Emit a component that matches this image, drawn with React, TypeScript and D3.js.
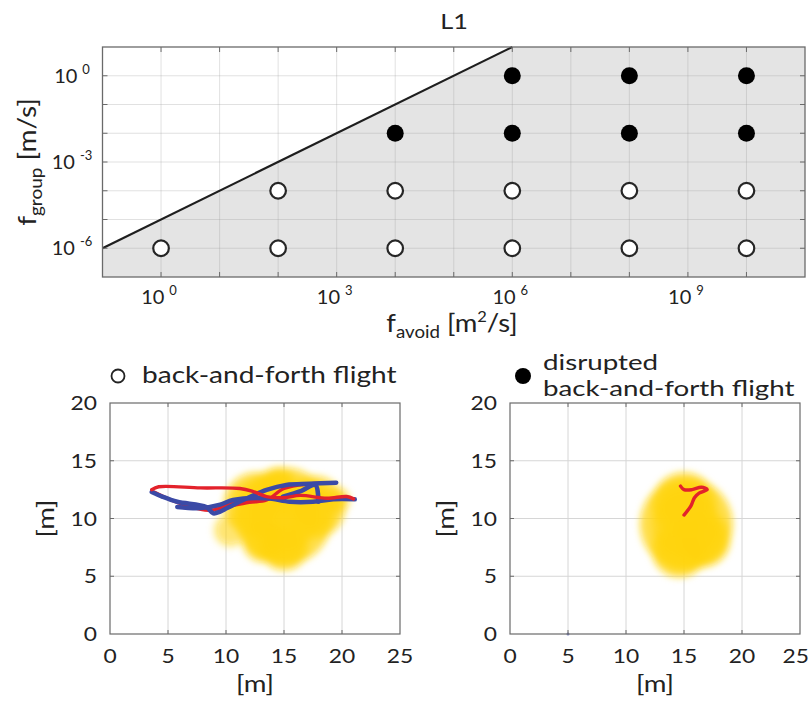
import React from "react";
import * as d3 from "d3";

// ---------- Data ----------
const W = 810;
const H = 703;

// Top panel: parameter sweep
const pointFavoid = [1e0, 1e2, 1e4, 1e6, 1e8, 1e10, 1e2, 1e4, 1e6, 1e8, 1e10, 1e4, 1e6, 1e8, 1e10, 1e6, 1e8, 1e10];
const pointFgroup = [1e-6, 1e-6, 1e-6, 1e-6, 1e-6, 1e-6, 1e-4, 1e-4, 1e-4, 1e-4, 1e-4, 1e-2, 1e-2, 1e-2, 1e-2, 1e0, 1e0, 1e0];
const pointDisrupted = [false, false, false, false, false, false, false, false, false, false, false, true, true, true, true, true, true, true];
const boundaryFavoid = [1e-1, 1e6];
const boundaryFgroup = [1e-6, 1e1];
const xTickExps = [0, 3, 6, 9];
const yTickExps = [0, -3, -6];

// Bottom panels
const bottomTicksX = [0, 5, 10, 15, 20, 25];
const bottomTicksY = [0, 5, 10, 15, 20];

// Yellow blobs: [x, y, r, weight]
const blobLeft: number[][] = [
  [15.0, 10.2, 4.2, 1],
  [12.6, 11.2, 2.8, 1],
  [17.6, 11.0, 2.7, 1],
  [15.0, 7.6, 2.1, 1],
  [13.2, 8.0, 1.8, 0.9],
  [10.4, 9.0, 1.5, 0.55],
  [19.6, 11.6, 1.1, 0.7],
  [14.5, 12.8, 1.6, 1],
];
const blobRight: number[][] = [
  [15.2, 9.5, 4.0, 1],
  [15.0, 11.2, 2.8, 1],
  [14.6, 7.3, 2.4, 1],
  [16.6, 8.2, 2.4, 1],
];

// Trajectories (left panel)
const redLeft1: number[][] = [[3.6, 12.5], [4.2, 12.75], [7.8, 12.65], [11.2, 12.6], [12.3, 12.35], [13.5, 11.9], [15, 11.8], [16.4, 12.0], [18.7, 11.75], [20.4, 11.9], [21, 11.7]];
const redLeft2: number[][] = [[3.8, 12.3], [5.8, 11.4], [8.5, 10.7], [10, 11.0], [12, 11.4], [13.5, 11.6], [15, 12.6], [17.2, 13.0], [19.3, 13.1]];
const redLeft3: number[][] = [[6, 11.0], [8, 10.9], [10.5, 11.3], [12.5, 11.5]];
const blueLeft1: number[][] = [[3.6, 12.3], [4.5, 11.9], [5.8, 11.45], [8.3, 11.0], [8.9, 10.45], [9.5, 10.6], [10.1, 10.9], [11.8, 11.75], [13.5, 12.47], [15.2, 12.9], [17.2, 13.0], [19.5, 13.1]];
const blueLeft2: number[][] = [[5.8, 11.0], [7.8, 10.9], [9.5, 11.2], [10.6, 11.6], [13.5, 11.75], [15.5, 11.45], [17.5, 11.45], [19.25, 11.66], [21.1, 11.66]];
const blueLeft3: number[][] = [[14.9, 11.9], [16.5, 12.4], [17.7, 12.9], [17.96, 11.45]];
// Trajectories (right panel)
const redRight: number[][] = [[14.7, 12.8], [15.0, 12.5], [15.7, 12.5], [16.5, 12.7], [17.0, 12.5], [16.3, 12.2], [15.9, 11.8], [15.6, 11.1], [15.0, 10.3]];
const blueRight: number[][] = [[5, 0]];

// ---------- Styles ----------
const FONT = "Lato, 'Open Sans', sans-serif";
const TXT = "#222";
const FRAME = "#6a6a6a";
const GRID = "#d6d6d6";
const RED = "#e3222b";
const BLUE = "#3b4aa6";
const YELLOW = "#ffd40f";

function T({ x, y, size, sx = 1, rot = 0, anchor = "start", children }: any) {
  return (
    <text
      transform={`translate(${x},${y}) rotate(${rot}) scale(${sx},1)`}
      fontFamily={FONT}
      fontSize={size}
      fill={TXT}
      textAnchor={anchor}
    >
      {children}
    </text>
  );
}

function TopPanel() {
  const x = d3.scaleLog().domain([1e-1, 1e11]).range([102.5, 805]);
  const y = d3.scaleLog().domain([1e-7, 1e1]).range([277, 47]);
  const [x0, x1] = x.range();
  const [y0, y1] = y.range();
  const decX = d3.range(-1, 12).map((e) => Math.pow(10, e));
  const decY = d3.range(-7, 2).map((e) => Math.pow(10, e));
  const line = d3.line<number>().x((_, i) => x(boundaryFavoid[i])).y((_, i) => y(boundaryFgroup[i]));
  const shade = [
    [x0, y0],
    [x(boundaryFavoid[0]), y(boundaryFgroup[0])],
    [x(boundaryFavoid[1]), y(boundaryFgroup[1])],
    [x1, y1],
    [x1, y0],
  ];
  return (
    <g>
      <polygon points={shade.map((p) => p.join(",")).join(" ")} fill="#e4e4e4" />
      {decX.slice(1, -1).map((v, i) => (
        <line key={"gx" + i} x1={x(v)} x2={x(v)} y1={y1} y2={y0} stroke="#9a9a9a" strokeOpacity={0.3} strokeWidth={1} />
      ))}
      {decY.slice(1, -1).map((v, i) => (
        <line key={"gy" + i} x1={x0} x2={x1} y1={y(v)} y2={y(v)} stroke="#9a9a9a" strokeOpacity={0.3} strokeWidth={1} />
      ))}
      <path d={line([0, 1]) || ""} stroke="#1e1e1e" strokeWidth={2.2} fill="none" />
      {pointFavoid.map((fa, i) => (
        <circle
          key={"p" + i}
          cx={x(fa)}
          cy={y(pointFgroup[i])}
          r={pointDisrupted[i] ? 8.5 : 7.8}
          fill={pointDisrupted[i] ? "#000" : "#fff"}
          stroke={pointDisrupted[i] ? "#000" : "#262626"}
          strokeWidth={pointDisrupted[i] ? 0 : 2.2}
        />
      ))}
      {decX.slice(1, -1).map((v, i) => (
        <g key={"tx" + i}>
          <line x1={x(v)} x2={x(v)} y1={y0} y2={y0 - 5} stroke={FRAME} />
          <line x1={x(v)} x2={x(v)} y1={y1} y2={y1 + 5} stroke={FRAME} />
        </g>
      ))}
      {decY.slice(1, -1).map((v, i) => (
        <g key={"ty" + i}>
          <line x1={x0} x2={x0 + 5} y1={y(v)} y2={y(v)} stroke={FRAME} />
          <line x1={x1} x2={x1 - 5} y1={y(v)} y2={y(v)} stroke={FRAME} />
        </g>
      ))}
      <rect x={x0} y={y1} width={x1 - x0} height={y0 - y1} fill="none" stroke={FRAME} strokeWidth={1.3} />
      {xTickExps.map((e) => (
        <T key={"lx" + e} x={x(Math.pow(10, e)) - 2} y={304} size={20} anchor="middle">
          10<tspan dx={5} dy={-9} fontSize={13}>{e}</tspan>
        </T>
      ))}
      {yTickExps.map((e) => (
        <T key={"ly" + e} x={72} y={y(Math.pow(10, e)) + 7} size={20} anchor="middle">
          10<tspan dx={5} dy={-9} fontSize={13}>{e}</tspan>
        </T>
      ))}
      <T x={454} y={29} size={22} sx={1.15} anchor="middle">L1</T>
      <T x={36} y={162} size={25} sx={1.12} rot={-90} anchor="middle">
        f<tspan fontSize={17} dy={6}>group</tspan>
        <tspan dy={-6}> [m/s]</tspan>
      </T>
      <T x={452} y={332} size={25} sx={1.1} anchor="middle">
        f<tspan fontSize={17} dy={6}>avoid</tspan>
        <tspan dy={-6}> [m</tspan>
        <tspan fontSize={15} dy={-10}>2</tspan>
        <tspan dy={10}>/s]</tspan>
      </T>
    </g>
  );
}

function Bottom({ left, blob, reds, blues, id }: any) {
  const x = d3.scaleLinear().domain([0, 25]).range([left, left + 290]);
  const y = d3.scaleLinear().domain([0, 20]).range([634, 403]);
  const [x0, x1] = x.range();
  const [y0, y1] = y.range();
  const line = d3
    .line<number[]>()
    .x((d) => x(d[0]))
    .y((d) => y(d[1]))
    .curve(d3.curveCatmullRom);
  const k = x(1) - x(0);
  return (
    <g>
      <defs>
        <filter id={"blur" + id} x="-30%" y="-30%" width="160%" height="160%">
          <feGaussianBlur stdDeviation={3.5} />
        </filter>
      </defs>
      {bottomTicksX.slice(1, -1).map((v) => (
        <line key={"gx" + v} x1={x(v)} x2={x(v)} y1={y1} y2={y0} stroke={GRID} />
      ))}
      {bottomTicksY.slice(1, -1).map((v) => (
        <line key={"gy" + v} x1={x0} x2={x1} y1={y(v)} y2={y(v)} stroke={GRID} />
      ))}
      <g filter={`url(#blur${id})`}>
        {blob.map((c: number[], i: number) => (
          <circle key={i} cx={x(c[0])} cy={y(c[1])} r={c[2] * k} fill={YELLOW} fillOpacity={0.75 * c[3]} />
        ))}
        {blob.map((c: number[], i: number) => (
          <circle key={"b" + i} cx={x(c[0])} cy={y(c[1])} r={c[2] * k * 0.75} fill={YELLOW} fillOpacity={0.6 * c[3]} />
        ))}
      </g>
      {reds.under.map((t: number[][], i: number) => (
        <path key={"ru" + i} d={line(t) || ""} stroke={RED} strokeWidth={3.4} fill="none" strokeLinejoin="round" strokeLinecap="round" />
      ))}
      {blues.map((t: number[][], i: number) =>
        t.length > 1 ? (
          <path key={"b" + i} d={line(t) || ""} stroke={BLUE} strokeWidth={4.5} fill="none" strokeLinejoin="round" strokeLinecap="round" />
        ) : (
          <circle key={"b" + i} cx={x(t[0][0])} cy={y(t[0][1])} r={1.5} fill={BLUE} fillOpacity={0.7} />
        )
      )}
      {reds.over.map((t: number[][], i: number) => (
        <path key={"ro" + i} d={line(t) || ""} stroke={RED} strokeWidth={3.4} fill="none" strokeLinejoin="round" strokeLinecap="round" />
      ))}
      {bottomTicksX.slice(1, -1).map((v) => (
        <g key={"tx" + v}>
          <line x1={x(v)} x2={x(v)} y1={y0} y2={y0 - 4} stroke={FRAME} />
          <line x1={x(v)} x2={x(v)} y1={y1} y2={y1 + 4} stroke={FRAME} />
        </g>
      ))}
      {bottomTicksY.slice(1, -1).map((v) => (
        <g key={"ty" + v}>
          <line x1={x0} x2={x0 + 4} y1={y(v)} y2={y(v)} stroke={FRAME} />
          <line x1={x1} x2={x1 - 4} y1={y(v)} y2={y(v)} stroke={FRAME} />
        </g>
      ))}
      <rect x={x0} y={y1} width={x1 - x0} height={y0 - y1} fill="none" stroke={FRAME} strokeWidth={1.2} />
      {bottomTicksX.map((v) => {
        const px = x(v);
        const overflow = px + 14 > W;
        return (
          <T key={"lx" + v} x={overflow ? W - 1 : px} y={663} size={19} sx={1.2} anchor={overflow ? "end" : "middle"}>
            {v}
          </T>
        );
      })}
      {bottomTicksY.map((v) => (
        <T key={"ly" + v} x={x0 - 13} y={y(v) + 7} size={19} sx={1.2} anchor="end">
          {v}
        </T>
      ))}
      <T x={(x0 + x1) / 2} y={692} size={23} sx={1.2} anchor="middle">[m]</T>
      <T x={x0 - 56} y={y(10)} size={23} sx={1.2} rot={-90} anchor="middle">[m]</T>
    </g>
  );
}

export default function App() {
  return (
    <svg
      width={W}
      height={H}
      viewBox={`0 0 ${W} ${H}`}
      style={{ display: "block", position: "fixed", left: 0, top: 0, background: "#fff" }}
    >
      <rect width={W} height={H} fill="#fff" />
      <TopPanel />
      <Bottom
        id="L"
        left={110}
        blob={blobLeft}
        reds={{ under: [redLeft2, redLeft3], over: [redLeft1] }}
        blues={[blueLeft1, blueLeft2, blueLeft3]}
      />
      <Bottom id="R" left={510} blob={blobRight} reds={{ under: [], over: [redRight] }} blues={[blueRight]} />
      {/* legends */}
      <circle cx={118} cy={376} r={6.5} fill="#fff" stroke="#222" strokeWidth={1.8} />
      <T x={142} y={383} size={23} sx={1.22}>back-and-forth flight</T>
      <circle cx={523} cy={376} r={8} fill="#000" />
      <T x={543} y={370} size={22} sx={1.26}>disrupted</T>
      <T x={543} y={396} size={22} sx={1.26}>back-and-forth flight</T>
    </svg>
  );
}
